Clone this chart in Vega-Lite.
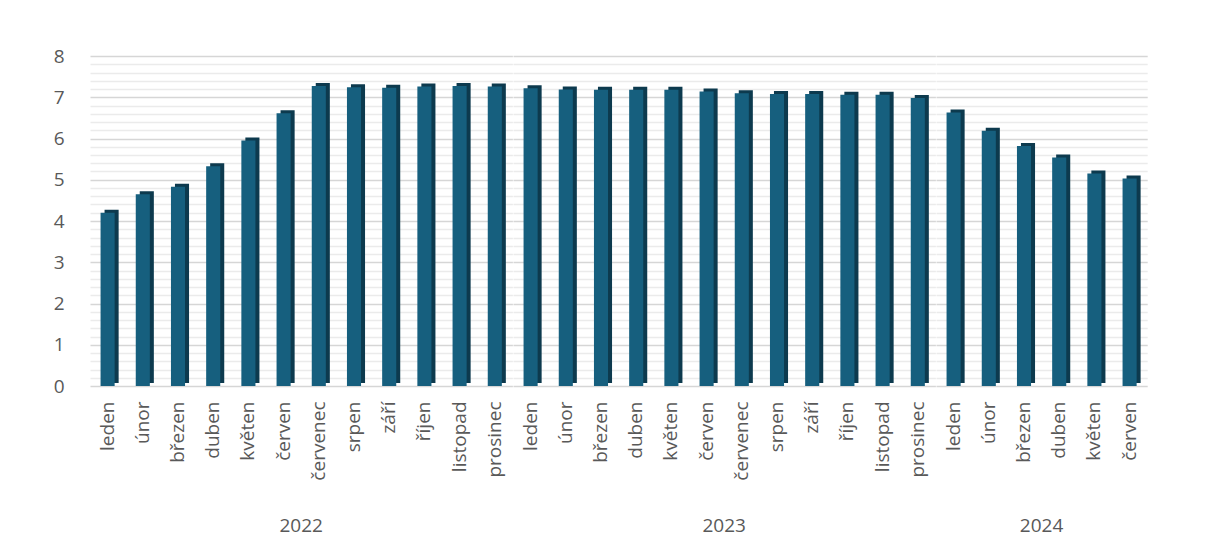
{
  "$schema": "https://vega.github.io/schema/vega-lite/v6.json",
  "background": "white",
  "padding": {"left": 53, "top": 47, "right": 40, "bottom": 10},
  "config": {
    "font": "Open Sans",
    "view": {"stroke": null},
    "axis": {"labelColor": "#595959", "labelFont": "Open Sans"}
  },
  "data": {
    "values": [
      {"year": "2022", "month": "leden", "value": 4.2},
      {"year": "2022", "month": "únor", "value": 4.65},
      {"year": "2022", "month": "březen", "value": 4.83},
      {"year": "2022", "month": "duben", "value": 5.33},
      {"year": "2022", "month": "květen", "value": 5.95},
      {"year": "2022", "month": "červen", "value": 6.61},
      {"year": "2022", "month": "červenec", "value": 7.27},
      {"year": "2022", "month": "srpen", "value": 7.24},
      {"year": "2022", "month": "září", "value": 7.23},
      {"year": "2022", "month": "říjen", "value": 7.26},
      {"year": "2022", "month": "listopad", "value": 7.27},
      {"year": "2022", "month": "prosinec", "value": 7.26},
      {"year": "2023", "month": "leden", "value": 7.22},
      {"year": "2023", "month": "únor", "value": 7.19},
      {"year": "2023", "month": "březen", "value": 7.18},
      {"year": "2023", "month": "duben", "value": 7.18},
      {"year": "2023", "month": "květen", "value": 7.18},
      {"year": "2023", "month": "červen", "value": 7.14},
      {"year": "2023", "month": "červenec", "value": 7.1},
      {"year": "2023", "month": "srpen", "value": 7.08},
      {"year": "2023", "month": "září", "value": 7.08},
      {"year": "2023", "month": "říjen", "value": 7.06},
      {"year": "2023", "month": "listopad", "value": 7.06},
      {"year": "2023", "month": "prosinec", "value": 6.98},
      {"year": "2024", "month": "leden", "value": 6.63},
      {"year": "2024", "month": "únor", "value": 6.19},
      {"year": "2024", "month": "březen", "value": 5.82},
      {"year": "2024", "month": "duben", "value": 5.54},
      {"year": "2024", "month": "květen", "value": 5.15},
      {"year": "2024", "month": "červen", "value": 5.03}
    ]
  },
  "facet": {
    "column": {
      "field": "year",
      "type": "ordinal",
      "header": {
        "title": null,
        "labelOrient": "bottom",
        "labelFont": "Open Sans",
        "labelFontSize": 19,
        "labelColor": "#595959",
        "labelPadding": 36
      }
    }
  },
  "spacing": 0,
  "resolve": {"scale": {"x": "independent"}},
  "spec": {
    "width": {"step": 35.2},
    "height": 330,
    "layer": [
      {
        "mark": {"type": "bar", "color": "#0d3a4e", "xOffset": 4, "yOffset": -3, "width": {"band": 0.4}},
        "encoding": {
          "x": {
            "field": "month",
            "type": "nominal",
            "sort": null,
            "scale": {"paddingInner": 0, "paddingOuter": 0},
            "axis": {
              "title": null,
              "labelAngle": -90,
              "labelFontSize": 19,
              "labelPadding": 15,
              "ticks": false,
              "domain": false,
              "grid": false
            }
          },
          "y": {
            "field": "value",
            "type": "quantitative",
            "scale": {"domain": [0, 8], "nice": false},
            "axis": {
              "title": null,
              "values": [0.2, 0.4, 0.6, 0.8, 1.2, 1.4, 1.6, 1.8, 2.2, 2.4, 2.6, 2.8, 3.2, 3.4, 3.6, 3.8, 4.2, 4.4, 4.6, 4.8, 5.2, 5.4, 5.6, 5.8, 6.2, 6.4, 6.6, 6.8, 7.2, 7.4, 7.6, 7.8],
              "labels": false,
              "ticks": false,
              "domain": false,
              "grid": true,
              "gridColor": "#ebebeb",
              "gridWidth": 1.5,
              "orient": "left"
            }
          }
        }
      },
      {
        "mark": {"type": "bar", "color": "#165f7e", "width": {"band": 0.4}},
        "encoding": {
          "x": {"field": "month", "type": "nominal", "sort": null},
          "y": {
            "field": "value",
            "type": "quantitative",
            "axis": {
              "title": null,
              "values": [0, 1, 2, 3, 4, 5, 6, 7, 8],
              "labelFontSize": 19,
              "labelPadding": 26,
              "ticks": false,
              "domain": false,
              "grid": true,
              "gridColor": "#d6d6d6",
              "gridWidth": 1.5,
              "orient": "left"
            }
          }
        }
      }
    ],
    "resolve": {"axis": {"y": "independent"}}
  }
}
